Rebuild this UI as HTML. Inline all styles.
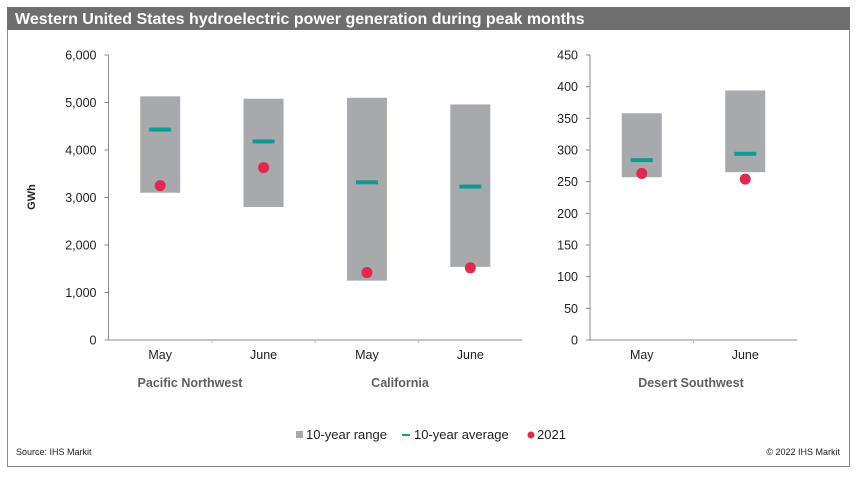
<!DOCTYPE html>
<html><head><meta charset="utf-8"><style>
body{margin:0;background:#fff;width:859px;height:475px;overflow:hidden;font-family:"Liberation Sans",Arial,sans-serif}
svg text{font-family:"Liberation Sans",Arial,sans-serif}
</style></head><body>
<svg width="859" height="475" viewBox="0 0 859 475">
<rect x="7.5" y="7.5" width="842" height="459" fill="#fff" stroke="#8a8a8a"/>
<rect x="7" y="7" width="843" height="23" fill="#6e6e6e"/>
<text x="15" y="24" fill="#fff" font-size="16" font-weight="bold">Western United States hydroelectric power generation during peak months</text>
<g id="left"></g>
<g id="right"></g>
<text transform="translate(35,197) rotate(-90)" text-anchor="middle" font-size="11" font-weight="bold" fill="#222">GWh</text>
<text x="190" y="387" text-anchor="middle" font-size="12.5" font-weight="bold" fill="#5f5f5f">Pacific Northwest</text>
<text x="400" y="387" text-anchor="middle" font-size="12.5" font-weight="bold" fill="#5f5f5f">California</text>
<text x="691" y="387" text-anchor="middle" font-size="12.5" font-weight="bold" fill="#5f5f5f">Desert Southwest</text>
<g>
<rect x="296" y="431" width="7" height="7" fill="#a8a9ac"/>
<text x="306" y="439" font-size="13" fill="#222">10-year range</text>
<rect x="402" y="434" width="8" height="2" fill="#0e9a95"/>
<text x="414" y="439" font-size="13" fill="#222">10-year average</text>
<circle cx="531" cy="435" r="3.5" fill="#e0294f"/>
<text x="537" y="439" font-size="13" fill="#222">2021</text>
</g>
<text x="16" y="455" font-size="9" fill="#222">Source: IHS Markit</text>
<text x="840" y="455" text-anchor="end" font-size="9" fill="#222">© 2022 IHS Markit</text>
</svg>
<script>
const leftCats = ["May","June","May","June"];
const leftLow = [3100,2800,1250,1540];
const leftHigh = [5130,5080,5100,4960];
const leftAvg = [4430,4180,3320,3230];
const left2021 = [3250,3630,1420,1520];
const leftTicks = [0,1000,2000,3000,4000,5000,6000];
const leftTickLabels = ["0","1,000","2,000","3,000","4,000","5,000","6,000"];

const rightCats = ["May","June"];
const rightLow = [257,265];
const rightHigh = [358,394];
const rightAvg = [284,294];
const right2021 = [263,254];
const rightTicks = [0,50,100,150,200,250,300,350,400,450];
const rightTickLabels = ["0","50","100","150","200","250","300","350","400","450"];

const NS="http://www.w3.org/2000/svg";
function mk(parent,tag,attrs){const e=document.createElementNS(NS,tag);for(const k in attrs)e.setAttribute(k,attrs[k]);parent.appendChild(e);return e;}

function draw(gid,x0,x1,ymax,cats,lo,hi,av,v21,ticks,labels,prefix){
  const g=document.getElementById(gid);
  const yTop=55,yBot=340;
  const y=v=>yBot-(v/ymax)*(yBot-yTop);
  const cw=(x1-x0)/cats.length;
  const cx=i=>x0+cw*(i+0.5);
  let e=mk(g,"line",{x1:x0,y1:yTop,x2:x0,y2:yBot,stroke:"#888","stroke-width":1});
  
  
  e=mk(g,"line",{x1:x0-4,y1:yBot,x2:x1,y2:yBot,stroke:"#888","stroke-width":1});
  
  
  ticks.forEach((t,i)=>{
    let l=mk(g,"line",{x1:x0-4,y1:y(t),x2:x0,y2:y(t),stroke:"#888"});
    
    
    let tx=mk(g,"text",{x:x0-12,y:y(t)+4.5,"text-anchor":"end","font-size":"12.5",fill:"#222"});
    tx.textContent=labels[i];
    
    
  });
  for(let i=1;i<cats.length;i++){
    let l=mk(g,"line",{x1:x0+cw*i,y1:yBot,x2:x0+cw*i,y2:yBot+3,stroke:"#bbb"});
    
    
  }
  cats.forEach((c,i)=>{
    let r=mk(g,"rect",{x:cx(i)-20,y:y(hi[i]),width:40,height:y(lo[i])-y(hi[i]),fill:"#a8a9ac"});
    
    
    let a=mk(g,"rect",{x:cx(i)-11,y:y(av[i])-2,width:22,height:4,fill:"#0e9a95"});
    
    
    let d=mk(g,"circle",{cx:cx(i),cy:y(v21[i]),r:5.5,fill:"#e0294f"});
    
    
    let t=mk(g,"text",{x:cx(i),y:359,"text-anchor":"middle","font-size":"12.5",fill:"#222"});
    t.textContent=c;
    
    
  });
}
draw("left",108.5,522,6000,leftCats,leftLow,leftHigh,leftAvg,left2021,leftTicks,leftTickLabels,"left");
draw("right",590,797,450,rightCats,rightLow,rightHigh,rightAvg,right2021,rightTicks,rightTickLabels,"right");
</script>
</body></html>
